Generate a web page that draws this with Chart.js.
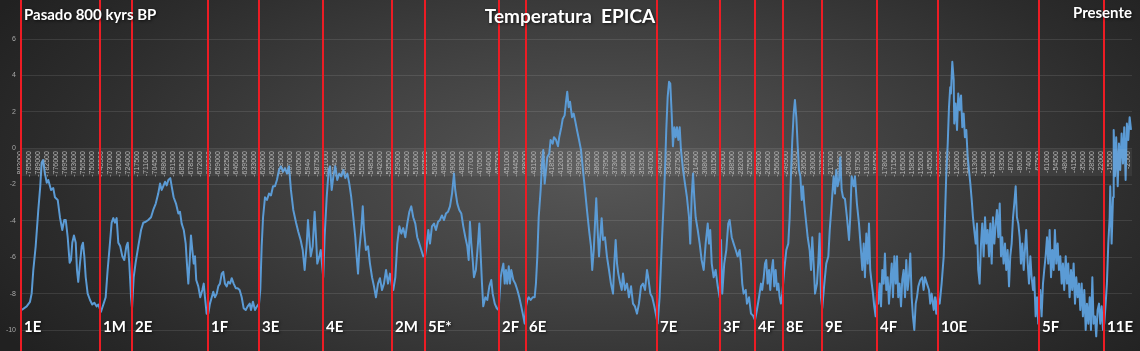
<!DOCTYPE html>
<html>
<head>
<meta charset="utf-8">
<title>Temperatura EPICA</title>
<script src="https://cdn.jsdelivr.net/npm/chart.js@4.4.1/dist/chart.umd.min.js"></script>
<style>
  html, body { margin: 0; padding: 0; background: #262626; }
  canvas { display: block; }
</style>
</head>
<body>
<canvas id="epica" width="1140" height="351"></canvas>
<script>
// age in kyr (negative = before present), temperature anomaly in degC
const ages = [
  -800.8,-797.2,-794.8,-793.6,-792.4,-790.7,-788.8,-787.4,-786.4,-785.4,-784.0,-782.7,-781.6,-779.6,-778.0,-776.8,-774.8,-773.2,-771.5,-770.1,-769.0,-767.6,-766.2,-765.2,-764.3,-763.1,-761.8,-760.9,-760.0,-758.7,-757.5,-756.6,-755.6,-754.6,-753.2,-751.5,-749.9,-748.4,-746.7,-745.5,
  -743.6,-741.9,-740.2,-738.8,-737.1,-735.9,-734.7,-733.5,-732.3,-731.1,-729.7,-728.2,-726.8,-725.3,-724.3,-723.2,-721.9,-721.2,
  -720.0,-718.6,-716.7,-714.7,-713.1,-711.3,-709.5,-707.5,-705.9,-704.1,-702.3,-701.0,-699.8,-698.7,-697.4,-696.2,-695.0,-693.6,-692.6,-691.2,-689.5,-687.8,-686.6,-685.4,-683.9,-682.5,-681.6,-680.6,-679.6,-678.7,-677.7,-676.7,-675.8,-674.9,-673.4,-672.0,-670.5,-669.5,-668.6,-667.4,-666.2,
  -665.0,-663.7,-662.6,-661.4,-660.1,-659.0,-657.8,-656.5,-655.4,-654.2,-652.9,-651.8,-650.5,-649.3,-647.9,-646.4,-645.0,-643.6,-642.1,-640.7,-639.2,-637.8,-636.3,-635.4,-634.0,-632.5,-631.1,-629.6,
  -628.7,-627.7,-626.7,-625.3,-623.9,-622.4,-621.0,-619.5,-618.1,-616.7,-615.2,-613.8,-612.3,-610.9,-609.4,-608.0,-606.6,-604.9,-602.9,-601.3,-599.6,-598.1,-596.7,-595.2,-594.3,-593.4,-592.3,-590.9,-589.5,-588.5,-587.6,-586.1,-585.1,-584.2,-583.3,
  -582.3,-580.8,-579.4,-578.4,-577.2,-576.0,-574.6,-573.2,-571.7,-570.3,-568.8,-567.4,-565.9,-564.5,-563.1,-561.6,-560.2,-559.2,-558.2,-557.3,-555.9,-554.8,-553.9,-552.5,-551.0,-549.6,-548.1,-546.7,-545.3,-543.8,-542.4,-540.9,-539.5,-538.0,-536.6,-535.2,-533.7,-532.8,
  -531.3,-529.9,-528.4,-527.0,-525.6,-524.1,-522.7,-521.2,-519.8,-518.4,-516.9,-515.5,-514.0,-512.6,-511.1,-509.9,
  -508.7,-507.5,-506.3,-504.9,-503.4,-502.0,-500.5,-499.1,-497.7,-496.2,-494.8,-493.3,-491.9,-490.4,-489.0,-488.1,-486.6,-485.2,-483.7,-482.3,-480.8,-479.4,-478.4,-477.5,-476.5,-475.5,-474.6,-473.2,-471.7,-470.7,-469.7,-468.8,-467.9,-466.4,-465.0,-463.5,-462.1,-461.1,-459.6,-458.2,-456.8,
  -455.3,-454.4,-453.4,-452.4,-451.5,-450.6,-449.5,-448.6,-447.7,-446.2,-444.8,-443.3,-441.9,-440.5,-439.0,-438.0,-437.1,
  -436.1,-435.1,-433.7,-432.2,-430.8,-429.9,-428.9,-427.9,-426.5,-425.5,-424.6,-423.6,-422.6,-421.7,-420.3,-419.3,-417.8,-416.9,-415.4,-414.0,-413.1,-411.6,-410.6,-409.2,-408.2,-407.3,-406.3,-405.3,-403.9,-402.7,-401.7,-400.3,-398.8,-397.4,-396.0,-394.5,-393.1,-391.6,-390.2,-389.3,-388.2,-387.3,-386.4,-385.4,-384.4,-383.5,-382.5,-381.5,-380.1,-378.7,-377.2,-375.8,-374.3,-373.4,-372.4,-371.4,-370.5,-369.1,-368.0,-367.1,-365.7,-364.2,-362.8,-361.3,-359.9,-358.5,-357.0,-355.6,-354.1,-352.7,-351.2,-349.8,-348.9,-347.4,-346.0,-344.5,-343.1,-342.1,
  -340.7,-339.2,-337.8,-336.8,-335.9,-334.9,-333.9,-333.0,-332.0,-331.1,-330.1,-329.1,-328.2,-327.2,-326.2,-325.3,-323.8,-322.4,-321.0,-319.5,-318.6,-317.6,-316.6,-315.7,-314.7,-313.2,-311.8,-310.4,-308.9,-307.5,-306.0,-305.1,-304.2,-303.1,-301.7,-300.3,-298.8,-297.4,-296.4,-295.5,
  -294.1,-292.6,-291.2,-290.2,-288.7,-287.3,-285.8,-284.4,-283.0,-282.0,-281.1,-280.1,-278.6,-277.7,-276.2,-274.8,-273.4,-271.9,
  -270.5,-269.0,-267.6,-266.7,-265.6,-264.7,-263.8,-262.8,-261.8,-260.9,-259.9,-258.9,-258.0,-257.0,-256.0,-255.1,-254.1,-253.2,-252.2,
  -250.8,-249.3,-247.9,-246.9,-246.0,-245.0,-244.0,-243.1,-242.1,-241.1,-240.2,-239.2,-238.2,-237.3,-236.4,-235.4,-233.9,-232.5,-231.5,-230.6,-229.6,-228.6,-227.2,-226.3,-225.3,-224.3,-223.4,
  -221.9,-220.5,-219.0,-218.0,-216.6,-215.2,-214.2,-213.3,-212.3,-211.3,-210.4,-209.4,-208.4,-207.0,-205.6,-204.1,-203.2,-202.2,-200.7,-199.8,-198.4,-196.9,-195.5,-194.5,-193.5,-192.6,-191.6,-190.6,-189.7,-188.8,-187.7,-186.8,-185.9,-184.9,-183.9,
  -183.0,-182.0,-181.0,-180.1,-179.1,-178.2,-177.2,-176.2,-175.3,-174.3,-173.3,-172.4,-171.4,-170.4,-169.5,-168.6,-167.6,-166.6,-165.7,-164.7,-163.7,-162.8,-161.8,-160.9,-159.9,-158.9,-158.0,-157.0,-156.0,-155.1,-154.1,-152.7,-151.3,-150.3,-149.3,-147.9,-146.4,-145.5,-144.5,-143.0,-142.1,-141.2,-140.2,
  -138.7,-137.3,-135.8,-134.9,-134.0,-132.9,-132.0,-131.1,-130.6,-129.6,-128.6,-128.2,-127.2,-126.2,-125.3,-124.3,-123.3,-122.4,-121.4,-120.5,-119.5,-118.5,-117.6,-116.6,-115.6,-114.7,-113.8,-112.7,-111.8,-110.9,-109.9,-108.9,-108.0,-107.0,-106.0,-105.1,-104.1,-103.1,-102.2,-101.2,-100.3,-99.3,-98.3,-97.4,-96.4,-95.4,-94.5,-93.6,-92.6,-91.6,-90.7,-89.7,-88.7,-87.8,-86.8,-85.8,-84.9,-83.9,-83.0,-82.0,-81.0,-80.1,-79.1,-78.1,-77.2,-76.3,-75.2,-74.3,-73.3,-72.4,-71.4,-70.5,-69.5,-68.5,-67.6,
  -66.2,-65.2,-64.2,-63.3,-62.3,-61.3,-60.4,-59.4,-58.4,-57.5,-56.5,-55.6,-54.6,-53.6,-52.7,-51.7,-50.7,-49.8,-48.9,-47.8,-46.9,-46.0,-45.0,-44.0,-43.1,-42.1,-41.1,-40.2,-39.2,-38.2,-37.3,-36.3,-35.4,-34.4,-33.4,-32.5,-31.5,-30.5,-29.6,-28.6,-27.7,-26.7,-25.8,-24.8,-23.8,-22.9,-21.9,-20.9,-20.0,
  -19.0,-18.1,-17.1,-16.1,-15.7,-14.7,-13.7,-13.2,-12.3,-11.4,-10.3,-9.4,-8.5,-7.5,-6.5,-5.6,-4.6,-3.7,-2.7,-1.7,-0.7
];

const temps = [
  -8.9,-8.7,-8.45,-8.0,-6.7,-5.4,-3.4,-2.1,-0.8,-0.65,-1.4,-1.9,-1.75,-2.3,-2.2,-2.7,-2.85,-3.8,-4.5,-3.95,-3.95,-4.9,-6.3,-6.15,-5.2,-4.8,-5.2,-6.7,-7.35,-6.3,-5.4,-5.2,-5.95,-7.1,-8.0,-8.35,-8.6,-8.5,-8.7,-8.6,
  -9.0,-8.6,-8.2,-6.7,-5.2,-4.1,-3.85,-4.1,-3.85,-5.2,-5.4,-5.95,-6.15,-5.4,-5.2,-6.3,-8.2,-8.8,
  -7.1,-6.3,-5.4,-4.5,-4.1,-4.05,-3.95,-3.8,-3.4,-3.05,-2.5,-1.95,-2.3,-2.1,-1.85,-2.05,-1.75,-1.65,-2.1,-2.7,-3.05,-3.6,-3.5,-4.15,-4.5,-5.25,-6.35,-7.45,-6.15,-4.8,-5.6,-6.35,-5.95,-7.25,-7.6,-8.2,-7.8,-7.45,-8.2,-9.1,-9.1,
  -8.55,-8.2,-7.9,-8.2,-8.0,-7.6,-7.45,-6.9,-6.8,-7.45,-7.6,-7.35,-7.45,-7.15,-7.45,-7.7,-7.7,-7.8,-8.2,-8.8,-8.9,-8.7,-8.55,-8.9,-8.45,-8.9,-8.7,-8.55,
  -7.8,-5.4,-3.8,-2.7,-2.85,-2.5,-2.6,-2.1,-2.1,-1.75,-1.2,-1.0,-1.3,-1.1,-1.4,-1.0,-2.3,-3.4,-4.1,-4.6,-5.05,-5.6,-6.7,-5.25,-3.95,-4.9,-5.95,-5.4,-3.5,-4.9,-6.35,-5.95,-5.6,-6.35,-7.1,
  -4.9,-2.7,-1.2,-1.0,-2.3,-1.55,-1.0,-1.75,-1.4,-1.55,-1.2,-1.65,-1.4,-1.95,-2.7,-3.8,-4.9,-5.95,-6.9,-5.6,-4.5,-3.2,-4.5,-5.6,-5.4,-6.35,-7.1,-7.6,-8.2,-7.45,-7.15,-7.8,-7.45,-6.7,-7.45,-6.9,-7.6,-7.8,
  -7.1,-5.25,-4.3,-4.7,-4.4,-4.9,-4.15,-3.5,-3.2,-3.8,-4.15,-4.9,-5.25,-5.6,-5.95,-5.95,
  -5.4,-4.5,-5.25,-4.3,-4.15,-4.5,-4.05,-3.95,-3.7,-3.95,-3.6,-3.5,-3.2,-2.5,-1.4,-2.3,-3.05,-3.4,-3.6,-4.3,-4.9,-5.4,-6.15,-4.05,-5.25,-6.15,-7.1,-6.7,-5.25,-4.15,-5.95,-7.45,-8.7,-8.2,-8.35,-7.6,-7.25,-8.0,-8.55,-8.8,-8.9,
  -7.1,-6.7,-6.35,-7.45,-6.7,-7.45,-6.5,-7.45,-6.7,-7.25,-7.45,-7.8,-8.2,-8.7,-9.25,-9.65,-8.7,
  -8.35,-8.2,-8.35,-8.2,-8.2,-7.45,-5.95,-3.8,-2.3,-0.85,-0.1,-1.95,-1.2,-0.5,-0.3,0.45,0.25,0.6,0.45,0.1,0.6,1.15,1.6,1.8,2.55,3.1,2.25,2.55,1.7,1.9,1.55,1.0,0.45,-0.1,-1.2,-2.3,-3.4,-4.5,-5.4,-6.7,-5.6,-4.15,-2.75,-4.5,-5.95,-4.9,-3.85,-5.05,-4.9,-5.95,-6.7,-7.45,-8.0,-6.35,-5.05,-6.35,-6.9,-7.45,-7.8,-6.9,-7.8,-7.45,-8.2,-7.6,-8.55,-8.7,-9.1,-8.55,-7.6,-7.45,-7.8,-6.7,-7.1,-8.0,-8.2,-8.7,-9.25,-9.65,
  -8.2,-5.4,-3.05,-1.2,1.0,2.8,3.65,3.55,1.9,0.1,1.15,0.6,1.15,0.45,1.15,-0.1,-1.2,-1.95,-2.7,-3.8,-5.25,-2.7,-1.4,-2.7,-3.8,-4.5,-5.25,-6.15,-6.7,-5.25,-4.15,-5.25,-4.5,-6.35,-7.1,-6.7,-7.6,-8.2,-5.05,-8.0,
  -6.35,-5.6,-4.15,-3.95,-4.9,-5.25,-5.6,-5.95,-5.6,-6.35,-7.45,-8.0,-7.8,-8.55,-8.2,-9.1,-9.2,-9.45,
  -8.9,-8.2,-7.45,-7.8,-7.1,-6.35,-6.15,-7.45,-6.7,-7.8,-6.7,-6.15,-7.6,-6.7,-7.8,-7.45,-8.2,-8.55,-8.0,
  -6.7,-5.6,-5.25,-3.8,-1.55,0.45,1.9,2.65,1.7,0.1,-1.2,-1.55,-2.85,-2.1,-3.05,-3.8,-4.9,-5.6,-6.7,-4.9,-6.35,-8.0,-7.45,-6.35,-4.7,-8.2,-8.8,
  -7.45,-6.35,-5.95,-4.5,-3.05,-1.55,-2.5,-1.2,-2.1,-1.75,-0.5,-2.3,-2.7,-2.8,-3.8,-5.05,-3.8,-1.55,-2.1,-1.55,-3.05,-4.15,-5.6,-6.7,-5.25,-7.1,-4.7,-6.35,-4.15,-6.7,-7.45,-8.0,-8.7,-9.25,-8.0,
  -8.55,-7.45,-8.7,-6.7,-7.45,-5.8,-7.8,-7.1,-8.55,-7.45,-6.35,-8.2,-5.95,-7.45,-5.95,-8.2,-7.45,-8.7,-7.25,-6.7,-8.2,-6.15,-7.8,-7.1,-5.8,-8.2,-9.25,-10.0,-8.55,-8.2,-7.6,-7.25,-7.1,-7.8,-7.1,-7.45,-7.8,-8.55,-8.0,-8.9,-8.2,-9.1,-8.2,
  -8.55,-7.45,-5.95,-3.8,-1.55,0.25,2.25,3.35,3.0,4.75,3.75,1.35,2.45,1.0,3.0,2.1,2.9,1.15,1.9,0.6,1.0,-0.5,-1.2,-1.95,-2.85,-3.8,-4.5,-5.25,-4.15,-6.7,-7.45,-5.25,-4.15,-5.95,-3.8,-5.25,-4.5,-5.95,-4.15,-6.35,-3.8,-5.25,-4.15,-3.4,-4.9,-3.05,-5.95,-4.9,-6.35,-5.25,-6.7,-5.6,-7.6,-5.95,-5.25,-3.8,-3.05,-2.1,-3.8,-4.15,-4.9,-6.35,-5.25,-6.7,-5.6,-4.5,-6.35,-7.45,-5.95,-7.1,-7.8,-7.1,-9.25,-8.2,-9.65,
  -7.8,-9.25,-7.45,-6.7,-5.95,-4.9,-6.35,-4.5,-7.1,-5.6,-6.7,-4.5,-6.35,-5.25,-6.7,-5.95,-7.45,-6.35,-7.8,-5.95,-7.45,-6.35,-8.2,-6.7,-7.8,-6.35,-8.55,-7.1,-8.2,-7.45,-8.9,-7.45,-9.25,-7.8,-10.0,-8.55,-9.65,-8.2,-10.0,-7.1,-9.65,-9.25,-10.35,-8.9,-8.55,-9.65,-8.7,-10.0,-9.65,
  -8.55,-7.45,-5.25,-3.8,-2.1,-5.25,-2.7,1.0,-1.55,0.6,-2.1,0.25,-1.2,0.8,-0.85,1.15,-1.75,1.35,0.45,1.7,1.0
];

// red marker lines (terminations / stages)
const markAges  = [-801.3,-744.3,-721.2,-666.4,-629.6,-583.5,-533.7,-509.9,-456.5,-437.1,-342.6,-297.2,-271.9,-251.7,-223.4,-183.9,-140.2,-67.1,-20.2];
const markNames = ['1E','1M','2E','1F','3E','4E','2M','5E*','2F','6E','7E','3F','4F','8E','9E','4F','10E','5F','11E'];

// axis ticks
const yTicks = [-10,-8,-6,-4,-2,0,2,4,6];
const xTickAges = [];
for (let a = -802; a < 0; a += 6.5) xTickAges.push(a);

// background: dark radial shading
const bgPlugin = {
  id: 'bg',
  beforeDraw(chart) {
    const ctx = chart.ctx;
    ctx.save();
    ctx.translate(600, 170);
    ctx.scale(1, 0.45);
    const g = ctx.createRadialGradient(0, 0, 0, 0, 0, 700);
    g.addColorStop(0, '#575757');
    g.addColorStop(0.4, '#424242');
    g.addColorStop(0.78, '#2c2c2c');
    g.addColorStop(1, '#212121');
    ctx.fillStyle = g;
    ctx.fillRect(-700, -900, 1500, 1800);
    ctx.restore();
  }
};

// light band behind the year labels
const bandPlugin = {
  id: 'band',
  afterDatasetsDraw(chart) {
    const {ctx, chartArea, scales} = chart;
    const y0 = scales.y.getPixelForValue(0);
    ctx.save();
    ctx.fillStyle = 'rgba(255,255,255,0.06)';
    ctx.fillRect(chartArea.left, y0 + 1, chartArea.right - chartArea.left, 27);
    ctx.restore();
  }
};

const markPlugin = {
  id: 'marks',
  afterDraw(chart) {
    const {ctx, scales} = chart;
    ctx.save();
    ctx.strokeStyle = '#ec1c24';
    ctx.lineWidth = 2;
    markAges.forEach(a => {
      const px = Math.round(scales.x.getPixelForValue(a));
      ctx.beginPath();
      ctx.moveTo(px, 0);
      ctx.lineTo(px, chart.height);
      ctx.stroke();
    });

    ctx.fillStyle = '#ffffff';
    ctx.shadowColor = 'rgba(0,0,0,0.7)';
    ctx.shadowBlur = 3;
    ctx.shadowOffsetX = 1;
    ctx.shadowOffsetY = 1;
    ctx.textBaseline = 'alphabetic';
    ctx.font = 'bold 15px Lato';
    ctx.textAlign = 'left';
    markAges.forEach((a, i) => {
      const px = Math.round(scales.x.getPixelForValue(a));
      ctx.fillText(markNames[i], px + 3, 332);
    });

    ctx.font = 'bold 15px Lato';
    ctx.fillText('Pasado 800 kyrs BP', 24, 20);
    ctx.textAlign = 'right';
    ctx.fillText('Presente', 1132, 18);
    ctx.textAlign = 'center';
    ctx.font = 'bold 19px Lato';
    ctx.fillText('Temperatura  EPICA', 570, 23);
    ctx.restore();
  }
};

new Chart(document.getElementById('epica'), {
  type: 'line',
  data: {
    datasets: [{
      data: ages.map((a, i) => ({x: a, y: temps[i]})),
      borderColor: '#5b9bd5',
      borderWidth: 2,
      borderJoinStyle: 'round',
      pointRadius: 0,
      tension: 0,
      clip: 14
    }]
  },
  options: {
    responsive: false,
    animation: false,
    events: [],
    layout: { padding: { top: 39, bottom: 21, left: 0, right: 8 } },
    plugins: { legend: { display: false }, tooltip: { enabled: false } },
    scales: {
      x: {
        type: 'linear',
        min: -802,
        max: 0,
        position: { y: 0 },
        z: 1,
        grid: { display: false, drawTicks: false },
        border: { display: false },
        afterBuildTicks(scale) { scale.ticks = xTickAges.map(v => ({value: v})); },
        ticks: {
          autoSkip: false,
          minRotation: 90,
          maxRotation: 90,
          padding: 3,
          color: '#b4b4b4',
          font: { size: 7, family: 'Liberation Sans' },
          callback: v => String(Math.round(v * 1000))
        }
      },
      y: {
        min: -10,
        max: 6,
        afterFit(scale) { scale.width = 20; },
        afterBuildTicks(scale) { scale.ticks = yTicks.map(v => ({value: v})); },
        grid: { color: 'rgba(255,255,255,0.10)', drawTicks: false },
        border: { display: false },
        ticks: { padding: 4, color: '#a8a8a8', font: { size: 7, family: 'Liberation Sans' } }
      }
    }
  },
  plugins: [bgPlugin, bandPlugin, markPlugin]
});
</script>
</body>
</html>
